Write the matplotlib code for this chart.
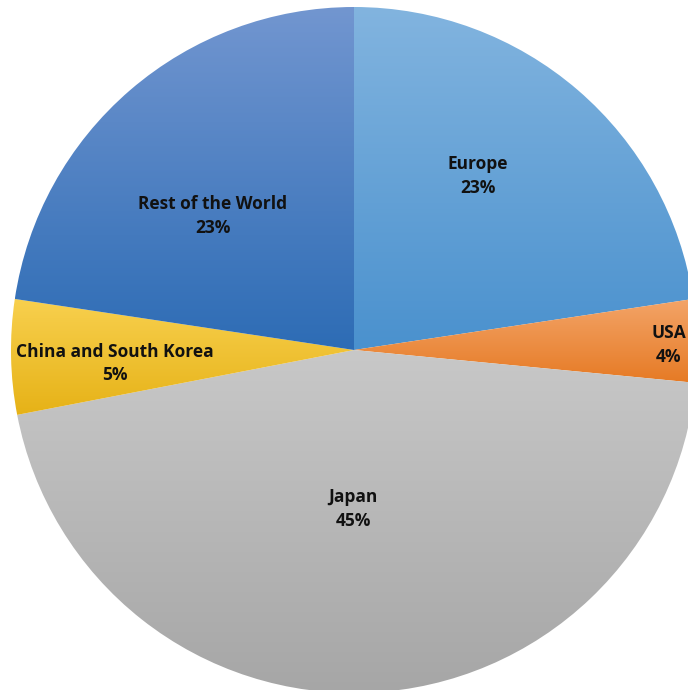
import numpy as np
import matplotlib.pyplot as plt
from matplotlib.colors import to_rgb

labels = ["Europe", "USA", "Japan", "China and South Korea", "Rest of the World"]
shares = [22.6, 3.9, 45.4, 5.4, 22.6]
pct_labels = ["23%", "4%", "45%", "5%", "23%"]
top_colors = ["#82b4df", "#f3a468", "#c8c8c8", "#f8d04e", "#7296d0"]
bottom_colors = ["#4a91ce", "#e67a24", "#a6a6a6", "#e6b217", "#2d6cb5"]
label_pos = [(0.362, 0.507), (0.918, 0.015), (-0.003, -0.464), (-0.697, -0.039), (-0.411, 0.391)]

fig = plt.figure(figsize=(6.88, 6.90), dpi=100)
ax = fig.add_axes([0, 0, 1, 1])

wedges, _ = ax.pie(shares, startangle=90, counterclock=False, radius=1.0,
                   wedgeprops=dict(linewidth=0))

# vertical gradient per slice, clipped to the wedge
for w, c_top, c_bot in zip(wedges, top_colors, bottom_colors):
    w.set_facecolor("none")
    bb = w.get_path().get_extents(w.get_patch_transform())
    t = np.linspace(0, 1, 256)[:, None]
    grad = (1 - t) * np.array(to_rgb(c_top)) + t * np.array(to_rgb(c_bot))
    grad = grad[:, None, :]
    im = ax.imshow(grad, extent=(bb.x0, bb.x1, bb.y0, bb.y1), origin="upper",
                   aspect="auto", interpolation="bilinear", zorder=1)
    im.set_clip_path(w)

for lab, pct, (x, y) in zip(labels, pct_labels, label_pos):
    ax.text(x, y, f"{lab}\n{pct}", ha="center", va="center", fontsize=12.5,
            fontweight="bold", family="Open Sans", color="#111111",
            linespacing=1.4, zorder=3)

r = 343.0
ax.set_xlim(-354 / r, (688 - 354) / r)
ax.set_ylim(-(690 - 350) / r, 350 / r)
ax.set_aspect("auto")
ax.axis("off")

fig.savefig("out.png", dpi=100)
